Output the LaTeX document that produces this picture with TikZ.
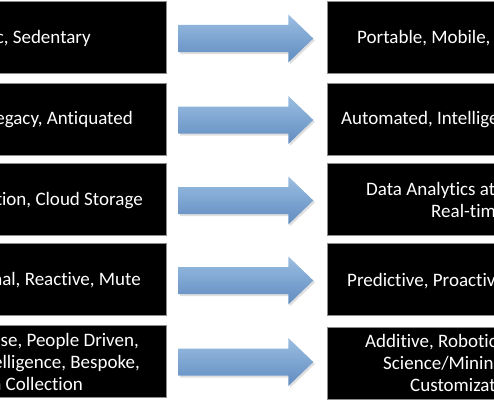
\documentclass[tikz,border=0pt]{standalone}
\usepackage{fontspec}
\setmainfont[Ligatures={NoCommon}]{Carlito}
\usetikzlibrary{shadows}
\definecolor{arrtop}{RGB}{155,190,226}
\definecolor{arrbot}{RGB}{96,140,192}
\tikzset{
  box/.style={fill=black, draw=black!45, line width=0.6pt, minimum width=336pt, minimum height=72pt, inner sep=0pt},
  txt/.style={text=white, inner sep=0pt, font=\fontsize{19}{21.5}\selectfont},
  arrfill/.style={top color=arrtop, bottom color=arrbot, draw=none,
     drop shadow={opacity=0.25, shadow xshift=1.5pt, shadow yshift=-2pt}},
  bigarrow/.pic={\path[arrfill] (0,-13.5) -- (110,-13.5) -- (110,-24) -- (135,0) -- (110,24) -- (110,13.5) -- (0,13.5) -- cycle;}
}
\begin{document}
\begin{tikzpicture}[x=1pt, y=-1pt]
\useasboundingbox (0,0) rectangle (494,412);
\clip (0,0) rectangle (494,412);
\fill[white] (0,0) rectangle (494,412);
% left boxes
\node[box] (L1) at (-2,37.5) {};
\node[box] (L2) at (-2,119) {};
\node[box] (L3) at (-2,199.5) {};
\node[box] (L4) at (-2,279.5) {};
\node[box] (L5) at (-2,361) {};
% right boxes
\node[box] (R1) at (495,37.5) {};
\node[box] (R2) at (495,119) {};
\node[box] (R3) at (495,199.5) {};
\node[box] (R4) at (495,279.5) {};
\node[box] (R5) at (495,363) {};
% arrows
\foreach \i in {1,...,5} {
  \pic at ([shift={(12,1)}]L\i.east) {bigarrow};
}
% left texts
\node[txt, anchor=base east] (TL1) at (91,43.5) {c, Sedentary};
\node[txt, anchor=base east] (TL2) at (133,124.5) {egacy, Antiquated};
\node[txt, anchor=base east] (TL3) at (143,205.5) {tion, Cloud Storage};
\node[txt, anchor=base east] (TL4) at (141,285.5) {nal, Reactive, Mute};
\node[txt, anchor=base east] (TL5a) at (139,346) {se, People Driven,};
\node[txt, anchor=base east] (TL5b) at (140,368) {elligence, Bespoke,};
\node[txt, anchor=base east] (TL5c) at (83,390) {a Collection};
% right texts
\node[txt, anchor=base west] (TR1) at (357,43.5) {Portable, Mobile,};
\node[txt, anchor=base west] (TR2) at (341,124.5) {Automated, Intellige};
\node[txt, anchor=base west] (TR3a) at (366,195.5) {Data Analytics at};
\node[txt, anchor=base west] (TR3b) at (431,217) {Real-tim};
\node[txt, anchor=base west] (TR4) at (347,286) {Predictive, Proactiv};
\node[txt, anchor=base west] (TR5a) at (365,347.5) {Additive, Robotic};
\node[txt, anchor=base west] (TR5b) at (383,369.5) {Science/Minin};
\node[txt, anchor=base west] (TR5c) at (410,391.5) {Customizat};
\end{tikzpicture}
\end{document}
